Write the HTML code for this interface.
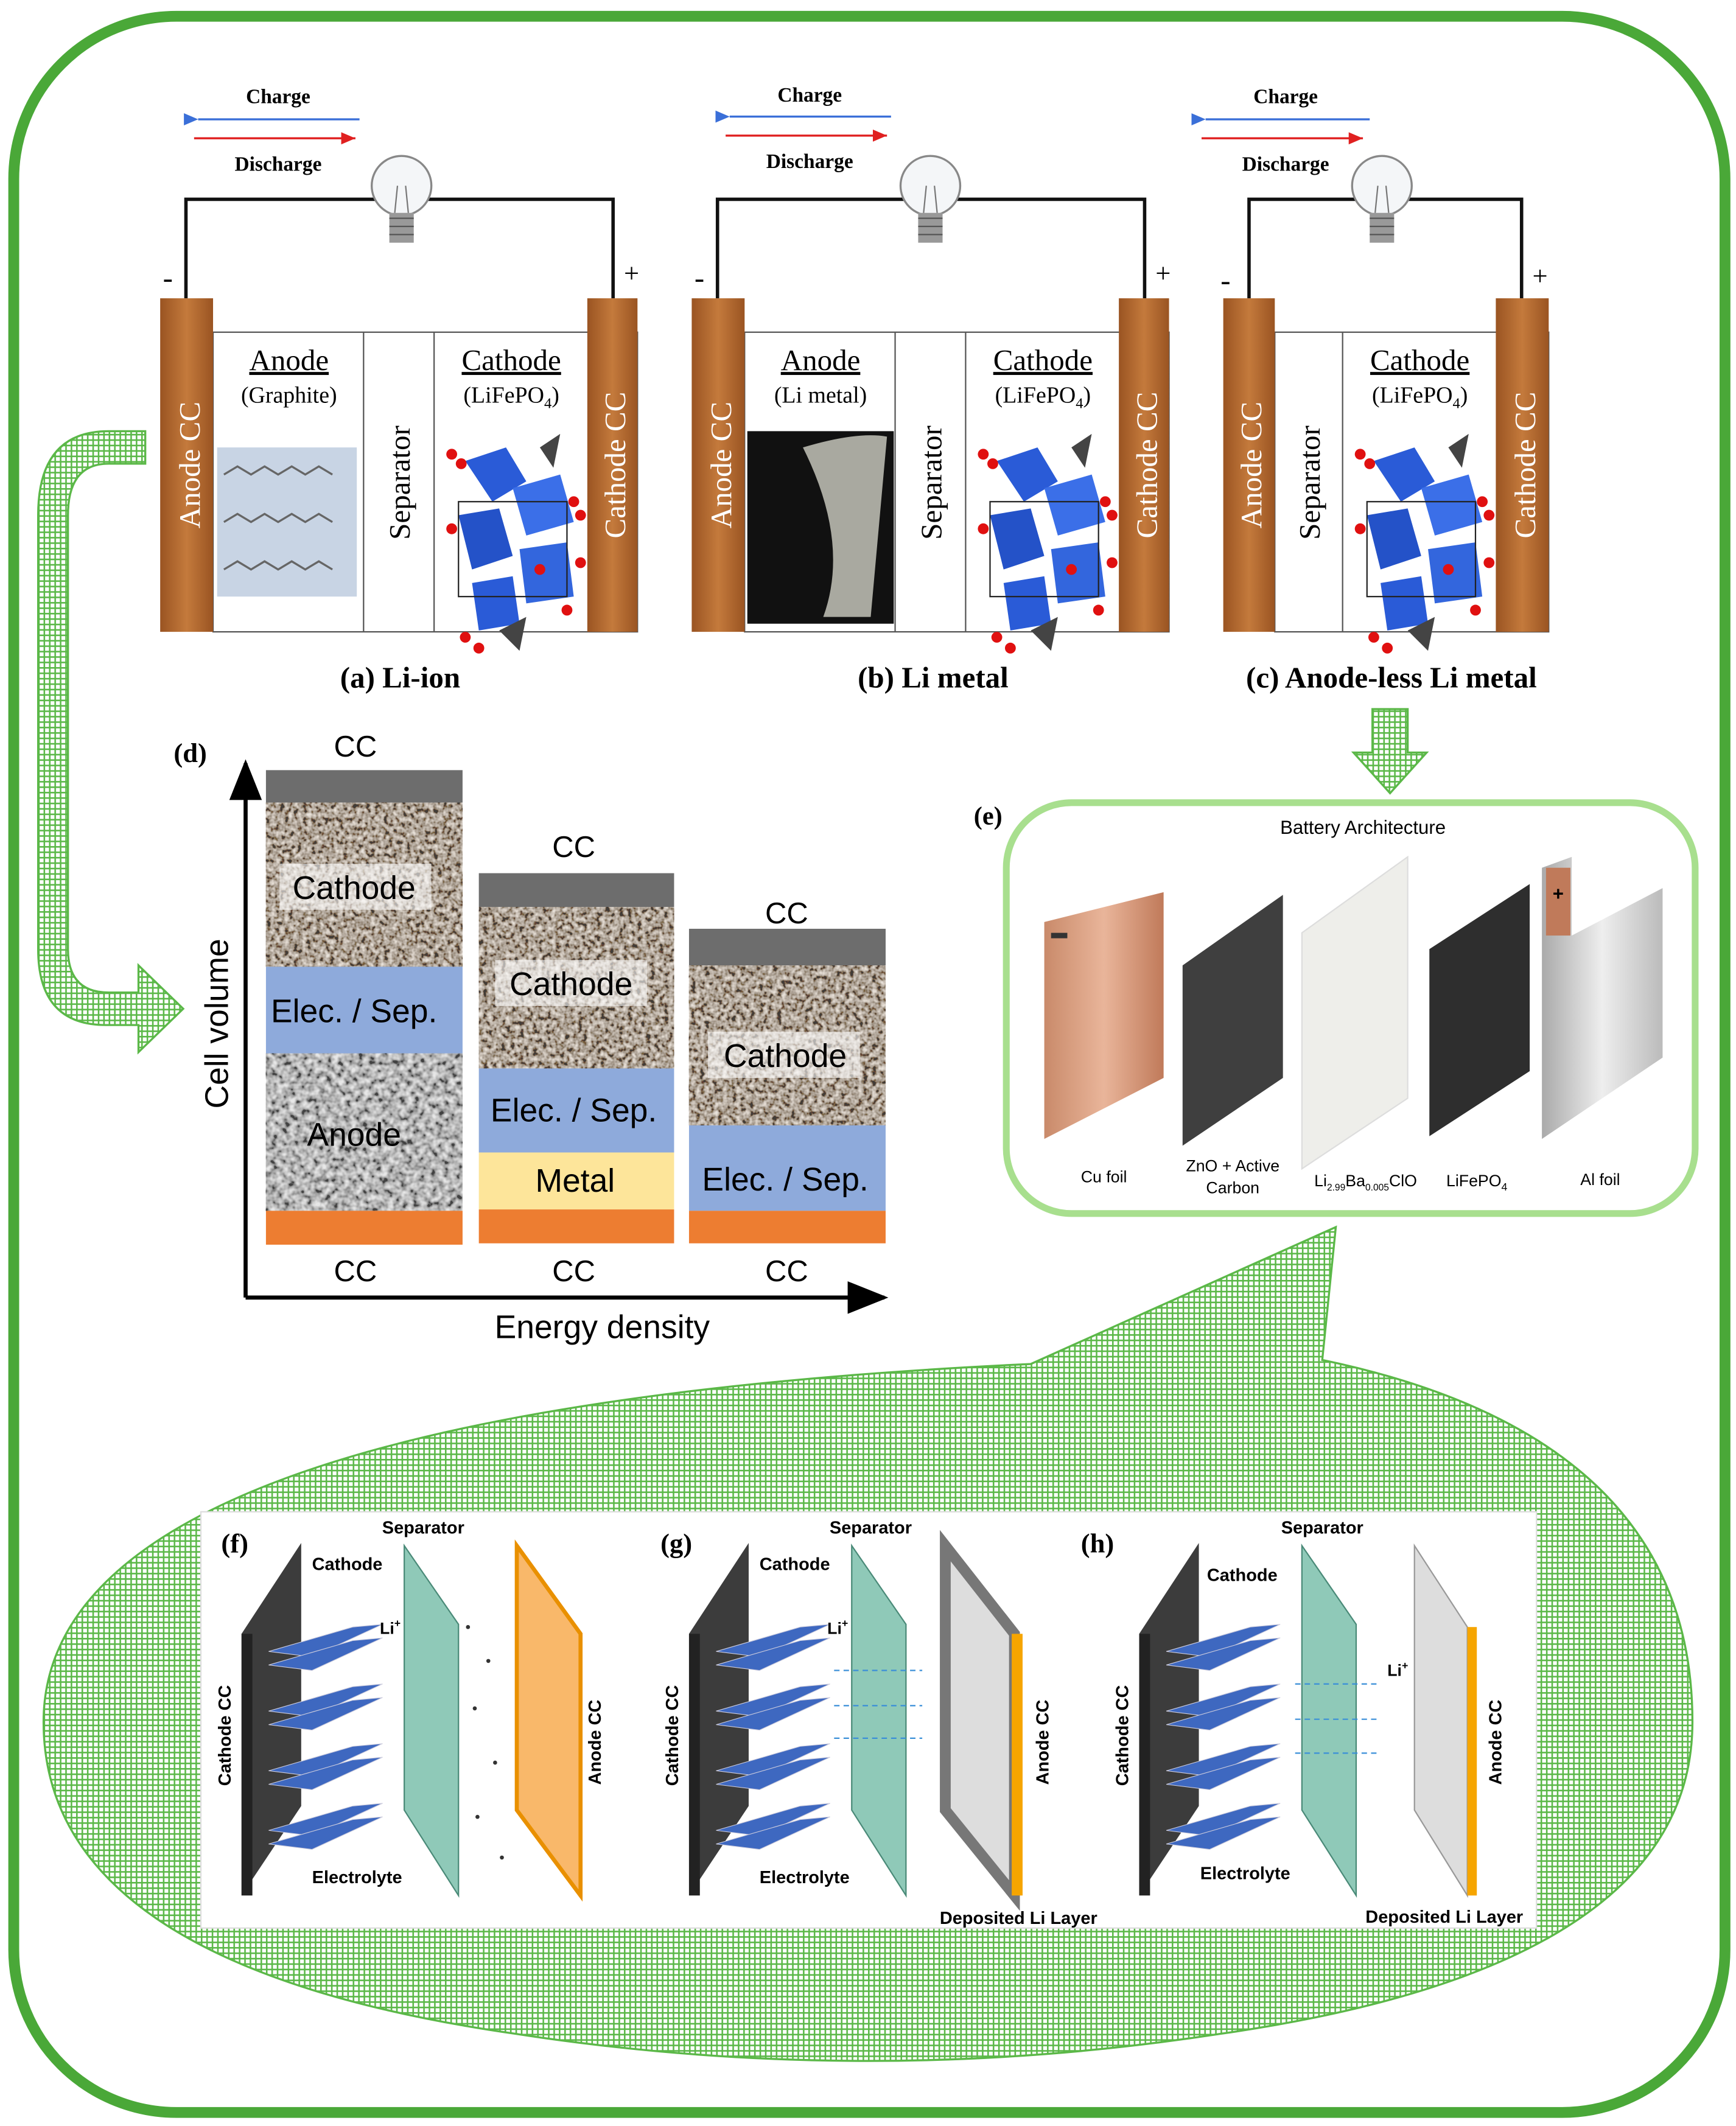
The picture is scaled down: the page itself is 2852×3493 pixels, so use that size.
<!DOCTYPE html>
<html><head><meta charset="utf-8"><style>
html,body{margin:0;padding:0;background:#fff;}
svg{display:block}
</style></head><body>
<svg width="2852" height="3493" viewBox="0 0 1280 1568" xmlns="http://www.w3.org/2000/svg">
<defs>
<pattern id="mesh" width="4" height="4" patternUnits="userSpaceOnUse">
<rect width="4" height="4" fill="#fff"/>
<path d="M0 0.5H4M0.5 0V4" stroke="#5bb848" stroke-width="1.3"/>
</pattern>
<filter id="noise" x="0" y="0" width="100%" height="100%">
<feTurbulence type="fractalNoise" baseFrequency="0.3" numOctaves="2" seed="3"/>
<feColorMatrix type="matrix" values="2 0 0 0 -0.6  2 0 0 0 -0.65  2 0 0 0 -0.7  0 0 0 0 0.65"/>
</filter>
<filter id="noise2" x="0" y="0" width="100%" height="100%">
<feTurbulence type="fractalNoise" baseFrequency="0.22" numOctaves="2" seed="7"/>
<feColorMatrix type="matrix" values="2 0 0 0 -0.55  2 0 0 0 -0.55  2 0 0 0 -0.55  0 0 0 0 0.65"/>
</filter>
<linearGradient id="cu" x1="0" x2="1"><stop offset="0" stop-color="#c98a6a"/><stop offset=".5" stop-color="#e9b59a"/><stop offset="1" stop-color="#c07a5a"/></linearGradient>
<linearGradient id="al" x1="0" x2="1"><stop offset="0" stop-color="#aaa"/><stop offset=".5" stop-color="#eee"/><stop offset="1" stop-color="#bbb"/></linearGradient>
<linearGradient id="cc" x1="0" x2="1"><stop offset="0" stop-color="#9a5422"/><stop offset=".5" stop-color="#c47a3c"/><stop offset="1" stop-color="#9a5422"/></linearGradient>
<marker id="ab" markerWidth="8" markerHeight="8" refX="1" refY="4" orient="auto"><path d="M8 1L1 4L8 7Z" fill="#3a6fd8"/></marker>
<marker id="ar" markerWidth="8" markerHeight="8" refX="7" refY="4" orient="auto"><path d="M0 1L7 4L0 7Z" fill="#e02020"/></marker>
<marker id="ak" markerWidth="10" markerHeight="10" refX="9" refY="5" orient="auto"><path d="M0 1L10 5L0 9Z" fill="#000"/></marker>
<g id="crystal">
<polygon points="15,10 45,0 60,25 35,40" fill="#2a5bd7"/>
<polygon points="50,30 85,20 95,55 60,65" fill="#3b6fe8"/>
<polygon points="10,50 40,45 50,80 20,90" fill="#2452c8"/>
<polygon points="55,75 90,70 95,110 60,115" fill="#3366dd"/>
<polygon points="20,100 50,95 55,130 25,135" fill="#2a5bd7"/>
<polygon points="70,0 85,-10 80,15" fill="#444"/>
<polygon points="40,135 60,125 55,150" fill="#444"/>
<rect x="10" y="40" width="80" height="70" fill="none" stroke="#222" stroke-width="1"/>
<g fill="#e01010"><circle cx="5" cy="5" r="4"/><circle cx="12" cy="12" r="4"/><circle cx="95" cy="40" r="4"/><circle cx="100" cy="50" r="4"/><circle cx="5" cy="60" r="4"/><circle cx="100" cy="85" r="4"/><circle cx="15" cy="140" r="4"/><circle cx="25" cy="148" r="4"/><circle cx="90" cy="120" r="4"/><circle cx="70" cy="90" r="4"/></g>
</g>
<g id="bulb">
<circle cx="0" cy="-8" r="22" fill="#f4f6f8" stroke="#888" stroke-width="1.5"/>
<rect x="-9" y="12" width="18" height="22" fill="#999"/>
<path d="M-9 16H9M-9 22H9M-9 28H9" stroke="#555"/>
<path d="M-5 12L-3 -8M5 12L3 -8" stroke="#777"/>
</g>
</defs>

<rect x="10" y="12" width="1262" height="1546" rx="120" fill="#fff" stroke="#4aa838" stroke-width="8"/>

<g font-family="Liberation Serif, serif">
<g>
<text x="205" y="76" font-size="15" font-weight="bold" text-anchor="middle">Charge</text>
<line x1="265" y1="88" x2="146" y2="88" stroke="#3a6fd8" stroke-width="1.5" marker-end="url(#ab)"/>
<line x1="143" y1="102" x2="262" y2="102" stroke="#e02020" stroke-width="1.5" marker-end="url(#ar)"/>
<text x="205" y="126" font-size="15" font-weight="bold" text-anchor="middle">Discharge</text>
<path d="M137 220V147H452V220" fill="none" stroke="#111" stroke-width="2.5"/>
<use href="#bulb" x="296" y="145"/>
<text x="120" y="212" font-size="22">-</text><text x="460" y="208" font-size="20">+</text>
<rect x="157" y="245" width="313" height="221" fill="#fff" stroke="#555"/>
<rect x="118" y="220" width="39" height="246" fill="url(#cc)"/>
<rect x="433" y="220" width="37" height="246" fill="url(#cc)"/>
<line x1="268" y1="245" x2="268" y2="466" stroke="#555"/><line x1="320" y1="245" x2="320" y2="466" stroke="#555"/>
<text x="213" y="273" font-size="22" text-anchor="middle" text-decoration="underline">Anode</text>
<text x="213" y="297" font-size="17" text-anchor="middle">(Graphite)</text>
<text x="377" y="273" font-size="22" text-anchor="middle" text-decoration="underline">Cathode</text>
<text x="377" y="297" font-size="17" text-anchor="middle">(LiFePO<tspan font-size="11" dy="4">4</tspan><tspan dy="-4">)</tspan></text>
<rect x="160" y="330" width="103" height="110" fill="#c8d4e4"/>
<g fill="none" stroke="#666" stroke-width="1.5"><path d="M165 350l10-6 10 6 10-6 10 6 10-6 10 6 10-6 10 6M165 385l10-6 10 6 10-6 10 6 10-6 10 6 10-6 10 6M165 420l10-6 10 6 10-6 10 6 10-6 10 6 10-6 10 6"/></g>
<use href="#crystal" x="328" y="330"/>
<text transform="translate(147 343) rotate(-90)" font-size="22" fill="#fff" text-anchor="middle">Anode CC</text>
<text transform="translate(302 356) rotate(-90)" font-size="22" text-anchor="middle">Separator</text>
<text transform="translate(461 343) rotate(-90)" font-size="22" fill="#fff" text-anchor="middle">Cathode CC</text>
<text x="295" y="507" font-size="22" font-weight="bold" text-anchor="middle">(a) Li-ion</text>
</g>
<g transform="translate(392 0)">
<text x="205" y="75" font-size="15" font-weight="bold" text-anchor="middle">Charge</text>
<line x1="265" y1="86" x2="146" y2="86" stroke="#3a6fd8" stroke-width="1.5" marker-end="url(#ab)"/>
<line x1="143" y1="100" x2="262" y2="100" stroke="#e02020" stroke-width="1.5" marker-end="url(#ar)"/>
<text x="205" y="124" font-size="15" font-weight="bold" text-anchor="middle">Discharge</text>
<path d="M137 220V147H452V220" fill="none" stroke="#111" stroke-width="2.5"/>
<use href="#bulb" x="294" y="145"/>
<text x="120" y="212" font-size="22">-</text><text x="460" y="208" font-size="20">+</text>
<rect x="157" y="245" width="313" height="221" fill="#fff" stroke="#555"/>
<rect x="118" y="220" width="39" height="246" fill="url(#cc)"/>
<rect x="433" y="220" width="37" height="246" fill="url(#cc)"/>
<line x1="268" y1="245" x2="268" y2="466" stroke="#555"/><line x1="320" y1="245" x2="320" y2="466" stroke="#555"/>
<text x="213" y="273" font-size="22" text-anchor="middle" text-decoration="underline">Anode</text>
<text x="213" y="297" font-size="17" text-anchor="middle">(Li metal)</text>
<text x="377" y="273" font-size="22" text-anchor="middle" text-decoration="underline">Cathode</text>
<text x="377" y="297" font-size="17" text-anchor="middle">(LiFePO<tspan font-size="11" dy="4">4</tspan><tspan dy="-4">)</tspan></text>
<rect x="159" y="318" width="108" height="142" fill="#111"/>
<path d="M200 330Q240 318 262 322L250 455L215 455Q235 400 200 330Z" fill="#a9a9a0"/>
<use href="#crystal" x="328" y="330"/>
<text transform="translate(147 343) rotate(-90)" font-size="22" fill="#fff" text-anchor="middle">Anode CC</text>
<text transform="translate(302 356) rotate(-90)" font-size="22" text-anchor="middle">Separator</text>
<text transform="translate(461 343) rotate(-90)" font-size="22" fill="#fff" text-anchor="middle">Cathode CC</text>
<text x="296" y="507" font-size="22" font-weight="bold" text-anchor="middle">(b) Li metal</text>
</g>
<g>
<text x="948" y="76" font-size="15" font-weight="bold" text-anchor="middle">Charge</text>
<line x1="1010" y1="88" x2="889" y2="88" stroke="#3a6fd8" stroke-width="1.5" marker-end="url(#ab)"/>
<line x1="886" y1="102" x2="1005" y2="102" stroke="#e02020" stroke-width="1.5" marker-end="url(#ar)"/>
<text x="948" y="126" font-size="15" font-weight="bold" text-anchor="middle">Discharge</text>
<path d="M921 220V147H1122V220" fill="none" stroke="#111" stroke-width="2.5"/>
<use href="#bulb" x="1019" y="145"/>
<text x="900" y="214" font-size="22">-</text><text x="1130" y="210" font-size="20">+</text>
<rect x="940" y="245" width="202" height="221" fill="#fff" stroke="#555"/>
<rect x="902" y="220" width="38" height="246" fill="url(#cc)"/>
<rect x="1103" y="220" width="39" height="246" fill="url(#cc)"/>
<line x1="990" y1="245" x2="990" y2="466" stroke="#555"/>
<text x="1047" y="273" font-size="22" text-anchor="middle" text-decoration="underline">Cathode</text>
<text x="1047" y="297" font-size="17" text-anchor="middle">(LiFePO<tspan font-size="11" dy="4">4</tspan><tspan dy="-4">)</tspan></text>
<use href="#crystal" x="998" y="330"/>
<text transform="translate(930 343) rotate(-90)" font-size="22" fill="#fff" text-anchor="middle">Anode CC</text>
<text transform="translate(973 356) rotate(-90)" font-size="22" text-anchor="middle">Separator</text>
<text transform="translate(1132 343) rotate(-90)" font-size="22" fill="#fff" text-anchor="middle">Cathode CC</text>
<text x="1026" y="507" font-size="22" font-weight="bold" text-anchor="middle">(c) Anode-less Li metal</text>
</g>
</g>

<path d="M107 318V342H80Q50 342 50 380V700Q50 732 80 732H102V712L135 744L102 776V756H78Q28 756 28 700V380Q28 318 80 318Z" fill="url(#mesh)" stroke="#5bb848" stroke-width="1.5"/>
<path d="M1012 523H1038V555H1052L1025 585L998 555H1012Z" fill="url(#mesh)" stroke="#5bb848" stroke-width="1.5"/>

<g font-family="Liberation Sans, sans-serif">
<text x="128" y="562" font-family="Liberation Serif, serif" font-size="20" font-weight="bold">(d)</text>
<line x1="181" y1="957" x2="181" y2="563" stroke="#000" stroke-width="3" marker-end="url(#ak)"/>
<line x1="181" y1="957" x2="652" y2="957" stroke="#000" stroke-width="3" marker-end="url(#ak)"/>
<text transform="translate(168 755) rotate(-90)" font-size="24" text-anchor="middle">Cell volume</text>
<text x="444" y="987" font-size="24" text-anchor="middle">Energy density</text>
<rect x="196" y="568" width="145" height="24" fill="#6d6d6d"/>
<rect x="196" y="592" width="145" height="121" fill="#b8ab9c"/><rect x="196" y="592" width="145" height="121" filter="url(#noise)"/>
<rect x="206" y="637" width="112" height="34" fill="#fff" opacity=".6"/>
<rect x="196" y="713" width="145" height="64" fill="#8eaadb"/>
<rect x="196" y="777" width="145" height="116" fill="#bbb"/><rect x="196" y="777" width="145" height="116" filter="url(#noise2)"/>
<rect x="196" y="893" width="145" height="25" fill="#ed7d31"/>
<text x="262" y="558" font-size="22" text-anchor="middle">CC</text>
<text x="261" y="663" font-size="24" text-anchor="middle">Cathode</text>
<text x="261" y="754" font-size="24" text-anchor="middle">Elec. / Sep.</text>
<text x="261" y="845" font-size="24" text-anchor="middle">Anode</text>
<text x="262" y="945" font-size="22" text-anchor="middle">CC</text>
<rect x="353" y="644" width="144" height="25" fill="#6d6d6d"/>
<rect x="353" y="669" width="144" height="119" fill="#b8ab9c"/><rect x="353" y="669" width="144" height="119" filter="url(#noise)"/>
<rect x="365" y="708" width="112" height="34" fill="#fff" opacity=".6"/>
<rect x="353" y="788" width="144" height="62" fill="#8eaadb"/>
<rect x="353" y="850" width="144" height="42" fill="#fde59a"/>
<rect x="353" y="892" width="144" height="25" fill="#ed7d31"/>
<text x="423" y="632" font-size="22" text-anchor="middle">CC</text>
<text x="421" y="734" font-size="24" text-anchor="middle">Cathode</text>
<text x="423" y="827" font-size="24" text-anchor="middle">Elec. / Sep.</text>
<text x="424" y="879" font-size="24" text-anchor="middle">Metal</text>
<text x="423" y="945" font-size="22" text-anchor="middle">CC</text>
<rect x="508" y="685" width="145" height="27" fill="#6d6d6d"/>
<rect x="508" y="712" width="145" height="118" fill="#b8ab9c"/><rect x="508" y="712" width="145" height="118" filter="url(#noise)"/>
<rect x="522" y="761" width="112" height="34" fill="#fff" opacity=".6"/>
<rect x="508" y="830" width="145" height="63" fill="#8eaadb"/>
<rect x="508" y="893" width="145" height="24" fill="#ed7d31"/>
<text x="580" y="681" font-size="22" text-anchor="middle">CC</text>
<text x="579" y="787" font-size="24" text-anchor="middle">Cathode</text>
<text x="579" y="878" font-size="24" text-anchor="middle">Elec. / Sep.</text>
<text x="580" y="945" font-size="22" text-anchor="middle">CC</text>
</g>

<g font-family="Liberation Sans, sans-serif">
<rect x="742" y="592" width="508" height="303" rx="48" fill="#fff" stroke="#a8df8e" stroke-width="5"/>
<text x="718" y="608" font-family="Liberation Serif, serif" font-size="19" font-weight="bold">(e)</text>
<text x="1005" y="615" font-size="14" text-anchor="middle">Battery Architecture</text>
<polygon points="770,680 858,658 858,795 770,840" fill="url(#cu)"/>
<rect x="775" y="688" width="12" height="4" fill="#333"/>
<polygon points="872,712 946,660 946,795 872,845" fill="#3f3f3f"/>
<polygon points="960,688 1038,632 1038,810 960,862" fill="#eeeeea" stroke="#ddd"/>
<polygon points="1054,700 1128,652 1128,790 1054,838" fill="#2e2e2e"/>
<polygon points="1137,640 1159,632 1159,690 1226,655 1226,780 1137,840" fill="url(#al)"/>
<rect x="1140" y="640" width="18" height="50" fill="#c07a5a"/>
<text x="1149" y="664" font-size="14" text-anchor="middle" font-weight="bold">+</text>
<g font-size="12" text-anchor="middle"><text x="814" y="872">Cu foil</text><text x="909" y="864">ZnO + Active</text><text x="909" y="880">Carbon</text><text x="1007" y="875">Li<tspan font-size="7" dy="3">2.99</tspan><tspan dy="-3">Ba</tspan><tspan font-size="7" dy="3">0.005</tspan><tspan dy="-3">ClO</tspan></text><text x="1089" y="875">LiFePO<tspan font-size="8" dy="3">4</tspan></text><text x="1180" y="874">Al foil</text></g>
</g>

<path d="M760 1006L985 905L975 1003Q1248 1060 1248 1270Q1248 1450 900 1500Q640 1540 380 1500Q32 1450 32 1270Q32 1040 760 1006Z" fill="url(#mesh)" stroke="#5bb848" stroke-width="1.5"/>
<rect x="148" y="1115" width="985" height="307" fill="#fff" stroke="#ddd"/>

<g font-family="Liberation Sans, sans-serif" font-weight="bold" font-size="13">
<g id="fpanel">
<polygon points="178,1205 222,1138 222,1332 178,1398" fill="#3c3c3c"/>
<rect x="178" y="1205" width="8" height="193" fill="#222"/>
<g fill="#3e68c0" stroke="#ccd" stroke-width=".5">
<polygon points="198,1218 260,1200 282,1198 230,1222"/><polygon points="198,1228 260,1210 282,1208 230,1232"/>
<polygon points="198,1262 260,1244 282,1242 230,1266"/><polygon points="198,1272 260,1254 282,1252 230,1276"/>
<polygon points="198,1306 260,1288 282,1286 230,1310"/><polygon points="198,1316 260,1298 282,1296 230,1320"/>
<polygon points="198,1350 260,1332 282,1330 230,1354"/><polygon points="198,1360 260,1342 282,1340 230,1364"/>
</g>
<polygon points="298,1140 338,1198 338,1398 298,1335" fill="#8fc9b8" stroke="#4a8a78"/>
</g>
<text x="163" y="1145" font-family="Liberation Serif, serif" font-size="20">(f)</text>
<text x="312" y="1131" text-anchor="middle">Separator</text>
<text x="230" y="1158">Cathode</text><text x="280" y="1205" font-size="12">Li<tspan font-size="8" dy="-5">+</tspan></text>
<text x="230" y="1389">Electrolyte</text>
<text transform="translate(170 1280) rotate(-90)" text-anchor="middle">Cathode CC</text>
<polygon points="381,1140 428,1205 428,1398 381,1335" fill="#f9b86a" stroke="#e99000" stroke-width="3"/>
<text transform="translate(443 1285) rotate(-90)" text-anchor="middle">Anode CC</text>
<g fill="#333"><circle cx="345" cy="1200" r="1.5"/><circle cx="360" cy="1225" r="1.5"/><circle cx="350" cy="1260" r="1.5"/><circle cx="365" cy="1300" r="1.5"/><circle cx="352" cy="1340" r="1.5"/><circle cx="370" cy="1370" r="1.5"/></g>

<use href="#fpanel" x="330"/>
<text x="487" y="1145" font-family="Liberation Serif, serif" font-size="20">(g)</text>
<text x="642" y="1131" text-anchor="middle">Separator</text>
<text x="560" y="1158">Cathode</text><text x="610" y="1205" font-size="12">Li<tspan font-size="8" dy="-5">+</tspan></text>
<text x="560" y="1389">Electrolyte</text>
<text transform="translate(500 1280) rotate(-90)" text-anchor="middle">Cathode CC</text>
<polygon points="697,1140 748,1205 748,1398 697,1335" fill="#ddd" stroke="#777" stroke-width="8"/>
<rect x="746" y="1205" width="8" height="193" fill="#f6a500"/>
<text transform="translate(773 1285) rotate(-90)" text-anchor="middle">Anode CC</text>
<text x="751" y="1419" text-anchor="middle">Deposited Li Layer</text>
<g stroke="#3a8fd8" stroke-dasharray="4 3"><line x1="615" y1="1232" x2="680" y2="1232"/><line x1="615" y1="1258" x2="680" y2="1258"/><line x1="615" y1="1282" x2="680" y2="1282"/></g>

<use href="#fpanel" x="662"/>
<text x="797" y="1145" font-family="Liberation Serif, serif" font-size="20">(h)</text>
<text x="975" y="1131" text-anchor="middle">Separator</text>
<text x="890" y="1166">Cathode</text><text x="1023" y="1236" font-size="12">Li<tspan font-size="8" dy="-5">+</tspan></text>
<text x="885" y="1386">Electrolyte</text>
<text transform="translate(832 1280) rotate(-90)" text-anchor="middle">Cathode CC</text>
<polygon points="1043,1140 1082,1200 1082,1398 1043,1335" fill="#ddd" stroke="#999"/>
<rect x="1082" y="1200" width="7" height="198" fill="#f6a500"/>
<text transform="translate(1107 1285) rotate(-90)" text-anchor="middle">Anode CC</text>
<text x="1065" y="1418" text-anchor="middle">Deposited Li Layer</text>
<g stroke="#3a8fd8" stroke-dasharray="4 3"><line x1="1015" y1="1242" x2="955" y2="1242"/><line x1="1015" y1="1268" x2="955" y2="1268"/><line x1="1015" y1="1293" x2="955" y2="1293"/></g>
</g>
</svg>
</body></html>
